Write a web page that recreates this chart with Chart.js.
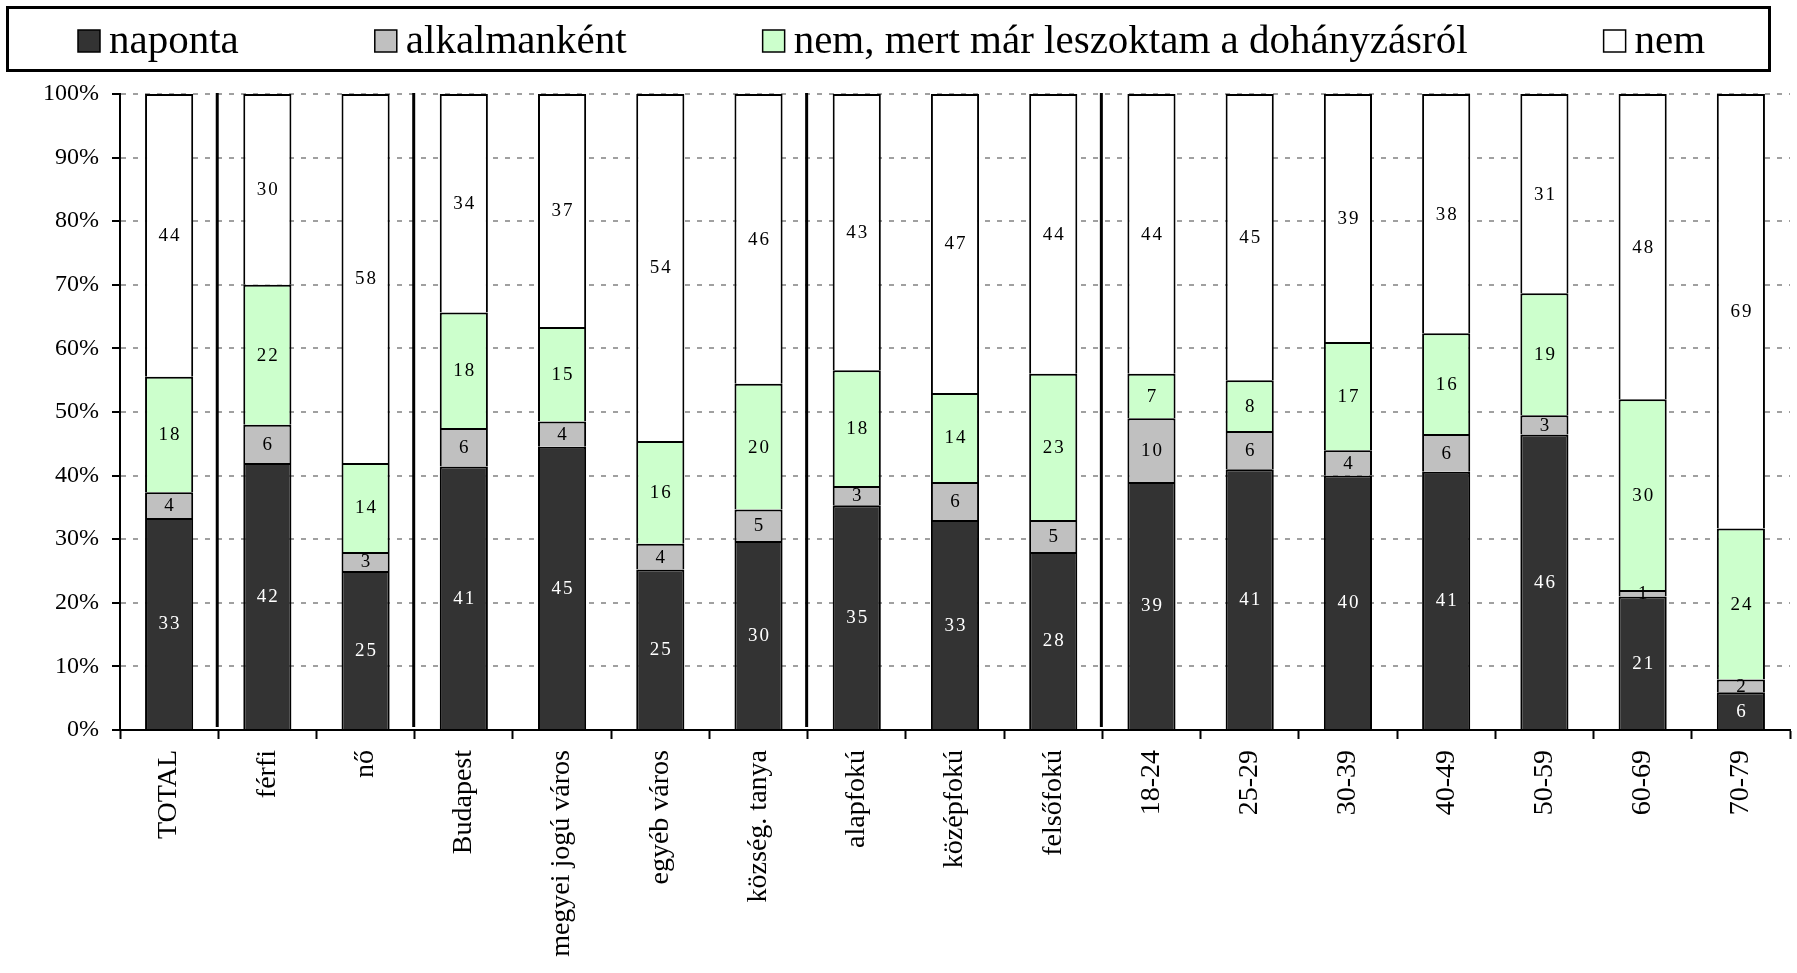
<!DOCTYPE html>
<html>
<head>
<meta charset="utf-8">
<script src="https://cdn.jsdelivr.net/npm/chart.js@4.4.1/dist/chart.umd.min.js"></script>
<style>
  html, body { margin: 0; padding: 0; background: #fff; }
  #wrap { width: 1797px; height: 973px; }
  canvas { display: block; }
</style>
</head>
<body>
<div id="wrap"><canvas id="smokeChart" width="1797" height="973"></canvas></div>
<script>
const categories = ['TOTAL', 'férfi', 'nő', 'Budapest', 'megyei jogú város', 'egyéb város', 'község. tanya',
  'alapfokú', 'középfokú', 'felsőfokú', '18-24', '25-29', '30-39', '40-49', '50-59', '60-69', '70-79'];

const naponta      = [33, 42, 25, 41, 45, 25, 30, 35, 33, 28, 39, 41, 40, 41, 46, 21, 6];
const alkalmankent = [4, 6, 3, 6, 4, 4, 5, 3, 6, 5, 10, 6, 4, 6, 3, 1, 2];
const leszokott    = [18, 22, 14, 18, 15, 16, 20, 18, 14, 23, 7, 8, 17, 16, 19, 30, 24];
const nem          = [44, 30, 58, 34, 37, 54, 46, 43, 47, 44, 44, 45, 39, 38, 31, 48, 69];

const seriesNames = ['naponta', 'alkalmanként', 'nem, mert már leszoktam a dohányzásról', 'nem'];
const yTickValues = [0, 10, 20, 30, 40, 50, 60, 70, 80, 90, 100];

// vertical separators go after these category indexes
const groupBreaks = [0, 2, 6, 9];

const FONT = '"Liberation Serif", "Times New Roman", serif';

// 100% stacked: each column is scaled to its own total
const raw = [naponta, alkalmankent, leszokott, nem];
const totals = categories.map((c, i) => raw.reduce((s, arr) => s + arr[i], 0));
const share = arr => arr.map((v, i) => v / totals[i] * 100);

const colors = ['#333333', '#c0c0c0', '#ccffcc', '#ffffff'];

const datasets = raw.map((arr, k) => ({
  label: seriesNames[k],
  data: share(arr),
  rawValues: arr,
  backgroundColor: colors[k],
  borderColor: '#000',
  borderWidth: 2,
  categoryPercentage: 1,
  barPercentage: 0.49
}));

const groupLines = {
  id: 'groupLines',
  beforeDatasetsDraw(chart) {
    const ctx = chart.ctx;
    const x = chart.scales.x;
    const area = chart.chartArea;
    ctx.save();
    ctx.strokeStyle = '#000';
    ctx.lineWidth = 3;
    groupBreaks.forEach(i => {
      const px = (x.getPixelForValue(i) + x.getPixelForValue(i + 1)) / 2 - 1;
      ctx.beginPath();
      ctx.moveTo(px, area.top - 1);
      ctx.lineTo(px, area.bottom - 3);
      ctx.stroke();
    });
    ctx.restore();
  }
};

const barLabels = {
  id: 'barLabels',
  afterDatasetsDraw(chart) {
    const ctx = chart.ctx;
    ctx.save();
    ctx.font = '19px ' + FONT;
    ctx.textAlign = 'center';
    ctx.textBaseline = 'middle';
    if ('letterSpacing' in ctx) ctx.letterSpacing = '2px';
    chart.data.datasets.forEach((ds, k) => {
      const meta = chart.getDatasetMeta(k);
      ctx.fillStyle = k === 0 ? '#ffffff' : '#000000';
      meta.data.forEach((bar, i) => {
        const cy = (bar.y + bar.base) / 2;
        ctx.fillText(String(ds.rawValues[i]), bar.x + 1, cy + 1);
      });
    });
    ctx.restore();
  }
};

const boxLegend = {
  id: 'boxLegend',
  afterDraw(chart) {
    const ctx = chart.ctx;
    ctx.save();
    ctx.strokeStyle = '#000';
    ctx.lineWidth = 3;
    ctx.strokeRect(7.5, 7.5, 1762, 63);
    ctx.font = '41px ' + FONT;
    ctx.textBaseline = 'alphabetic';
    let x = 78;
    chart.data.datasets.forEach(ds => {
      ctx.fillStyle = ds.backgroundColor;
      ctx.fillRect(x, 30, 22, 22);
      ctx.lineWidth = 1.5;
      ctx.strokeRect(x, 30, 22, 22);
      ctx.fillStyle = '#000';
      ctx.fillText(ds.label, x + 31, 53);
      x += 31 + ctx.measureText(ds.label).width + 136;
    });
    ctx.restore();
  }
};

const ctx = document.getElementById('smokeChart').getContext('2d');
new Chart(ctx, {
  type: 'bar',
  data: { labels: categories, datasets: datasets },
  options: {
    responsive: false,
    animation: false,
    layout: { padding: { top: 94, right: 7, left: 0, bottom: 0 } },
    plugins: {
      legend: { display: false },
      tooltip: { enabled: false }
    },
    scales: {
      x: {
        stacked: true,
        afterFit: s => { s.height = 243; },
        grid: {
          drawOnChartArea: false,
          drawTicks: true,
          tickLength: 9,
          tickColor: '#000',
          tickWidth: 2
        },
        border: { display: true, color: '#000', width: 2 },
        ticks: {
          autoSkip: false,
          minRotation: 90,
          maxRotation: 90,
          padding: 11,
          color: '#000',
          font: { family: FONT, size: 28 }
        }
      },
      y: {
        stacked: true,
        min: 0,
        max: 100,
        afterFit: s => { s.width = 120; },
        afterBuildTicks: s => { s.ticks = yTickValues.map(v => ({ value: v })); },
        grid: {
          color: '#a0a0a0',
          lineWidth: 2,
          tickLength: 8,
          tickColor: '#000',
          tickWidth: 2
        },
        border: { display: true, color: '#000', width: 2, dash: [5, 7] },
        ticks: {
          padding: 13,
          color: '#000',
          font: { family: FONT, size: 24 },
          callback: v => v + '%'
        }
      }
    }
  },
  plugins: [groupLines, barLabels, boxLegend]
});
</script>
</body>
</html>
